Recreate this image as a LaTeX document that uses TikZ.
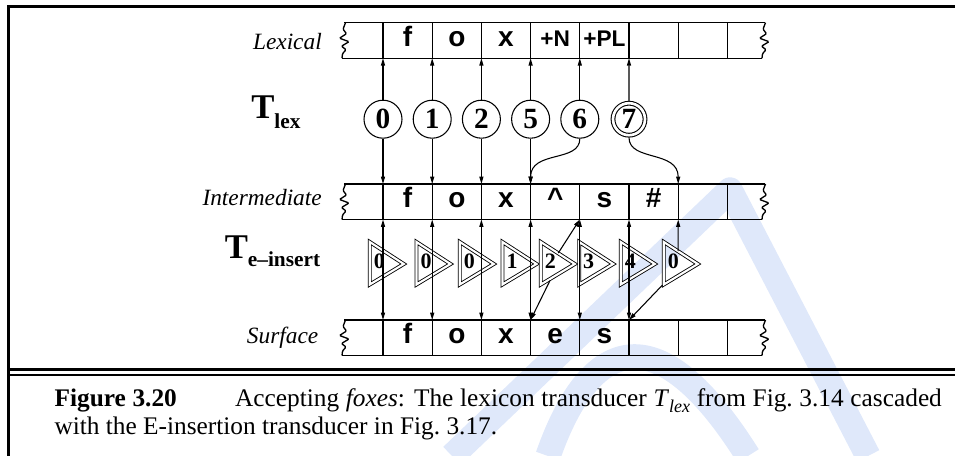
\documentclass[tikz,border=0pt]{standalone}
\usepackage{fontspec}
\setmainfont{Liberation Serif}
\newfontfamily\tapefont{Liberation Sans}
\usetikzlibrary{arrows.meta}
\definecolor{wmblue}{RGB}{223,232,250}

\begin{document}
\begin{tikzpicture}[x=0.75pt,y=0.75pt,yscale=-1,xscale=1,
  >={Triangle[length=5.5pt,width=3pt]},
  wmark/.style={draw=wmblue,line width=19pt,line join=round},
  frame/.style={line width=2pt},
  tape/.style={line width=1pt},
  arr/.style={line width=0.8pt,->},
  dblarr/.style={line width=0.8pt,<->},
  sym/.style={inner sep=0pt,anchor=base,font=\tapefont\bfseries\fontsize{21}{22}\selectfont},
  smallsym/.style={sym,font=\tapefont\bfseries\fontsize{17}{18}\selectfont},
  level/.style={inner sep=0pt,anchor=base east,font=\itshape\fontsize{17.5}{18}\selectfont},
  lexstate/.style={circle,draw,line width=0.8pt,minimum size=28.5pt,inner sep=0pt,font=\bfseries\fontsize{22}{22}\selectfont},
  tri/.style={double,double distance=1.6pt,line width=0.65pt},
  trinum/.style={inner sep=0pt,font=\bfseries\fontsize{16.5}{16.5}\selectfont}]
\path[use as bounding box] (0,0) rectangle (955,456);

%Shape: Watermark
\draw[wmark] (452,456) -- (730,190) -- (868,456);
\draw[wmark] (548,456) .. controls (585,350) and (650,300) .. (748,456);

%Straight Lines: frame
\draw[frame,line width=2pt] (8.3,5.3) -- (8.3,456);
\draw[frame] (7.3,6.3) -- (955,6.3);
\draw[frame,line width=2.3pt] (8.3,369.8) -- (955,369.8);
\draw[frame,line width=1.2pt] (8.3,375) -- (955,375);

%Shape: Tapes
\foreach \tp/\y in {lex/22.7,int/184,sur/320} {
  \draw[tape] (344,\y) -- (765,\y);
  \draw[tape] (342,\y+35.5) -- (762,\y+35.5);
  \draw[tape,rounded corners=0.8pt] (345.5,\y) -- (343,\y+6.5) -- (346.5,\y+11) -- (339.5,\y+15.5) -- (349,\y+19) -- (341.5,\y+23.5) -- (346,\y+27) -- (342.5,\y+31) -- (342,\y+35.5);
  \draw[tape,rounded corners=0.8pt] (765.5,\y) -- (763,\y+6.5) -- (766.5,\y+11) -- (759.5,\y+15.5) -- (769,\y+19) -- (761.5,\y+23.5) -- (766,\y+27) -- (762.5,\y+31) -- (762,\y+35.5);
  \foreach \i in {0,...,7} {
    \draw[tape] (383+49.2*\i,\y) -- (383+49.2*\i,\y+35.5);
    \coordinate (\tp T\i) at (383+49.2*\i,\y);
    \coordinate (\tp B\i) at (383+49.2*\i,\y+35.5);
  }
}

% Text Node: tape symbols
\foreach \s [count=\i] in {f,o,x} \node[sym] (lex\i) at (358.4+49.2*\i,46.7) {\s};
\node[smallsym] (lex4) at (555.2,46.7) {+N};
\node[smallsym] (lex5) at (604.4,46.7) {+PL};
\foreach \s [count=\i] in {f,o,x,\textasciicircum,s,\#} \node[sym] (int\i) at (358.4+49.2*\i,207) {\s};
\foreach \s [count=\i] in {f,o,x,e,s} \node[sym] (sur\i) at (358.4+49.2*\i,343) {\s};

% Text Node: levels
\node[level] (lexlbl) at (322,49.3) {Lexical};
\node[level] (intlbl) at (322,205) {Intermediate};
\node[level] (surlbl) at (318.5,343) {Surface};

% Text Node: transducers
\node[inner sep=0pt,anchor=base west] (tlex) at (251,118.3) {\bfseries\fontsize{26}{26}\selectfont T\raisebox{-7.5pt}{\fontsize{16}{16}\selectfont lex}};
\node[inner sep=0pt,anchor=base west] (teins) at (224.5,258.3) {\bfseries\fontsize{26}{26}\selectfont T\raisebox{-6.5pt}{\fontsize{16}{16}\selectfont e--insert}};

%Shape: Circle (lexicon states)
\foreach \n/\x in {0/0,1/1,2/2,5/3,6/4} \node[lexstate] (q\n) at (383+49.2*\x,119.2) {\n};
\node[lexstate,double,double distance=2pt,minimum size=24pt,outer sep=1.8pt] (q7) at (629,119.2) {7};

%Straight Lines
\foreach \n/\x in {0/0,1/1,2/2,5/3,6/4,7/5} \draw[arr] (q\n) -- (lexB\x);
\foreach \n/\x in {0/0,1/1,2/2,5/3} \draw[arr] (q\n) -- (intT\x);
%Curve Lines
\draw[arr] (q6.south) .. controls +(0,24) and +(0,-34) .. (intT3);
\draw[arr] (q7.south) .. controls +(0,24) and +(0,-34) .. (intT6);

%Shape: Triangle (e-insertion states)
\foreach \bx/\d [count=\i from 0] in {369.8/0,416.5/0,459.8/0,502.5/1,540.8/2,579.2/3,620.8/4,663.8/0} {
  \draw[tri] (\bx,242) -- (\bx,284.5) -- (\bx+34,264) -- cycle;
  \node[trinum] (e\i) at (\bx+9.5,261) {\d};
}
\coordinate (e4up) at (558.3,253);
\coordinate (e4dn) at (550,280.5);
\coordinate (e7up) at (678.2,251);
\coordinate (e7dn) at (662.5,285);

%Straight Lines
\foreach \x in {0,1,2,3,4,5} \draw[dblarr] (intB\x) -- (surT\x);
\draw[arr] (e4up) -- (intB4);
\draw[arr] (e4dn) -- (surT3);
\draw[arr] (e7up) -- (intB6);
\draw[arr] (e7dn) -- (surT5);

% Text Node: caption
\node[anchor=base west,inner sep=0pt,text width=665.5pt,align=justify,font=\fontsize{19}{20.5}\selectfont] (cap) at (54.3,406.7) {\textbf{Figure 3.20}\hspace{2.3em}Accepting \textit{foxes}: The lexicon transducer \textit{T}\raisebox{-0.5ex}{\fontsize{13.5}{13.5}\selectfont\itshape lex} from Fig.~3.14 cascaded\linebreak with the E-insertion transducer in Fig.~3.17.};

\end{tikzpicture}
\end{document}
